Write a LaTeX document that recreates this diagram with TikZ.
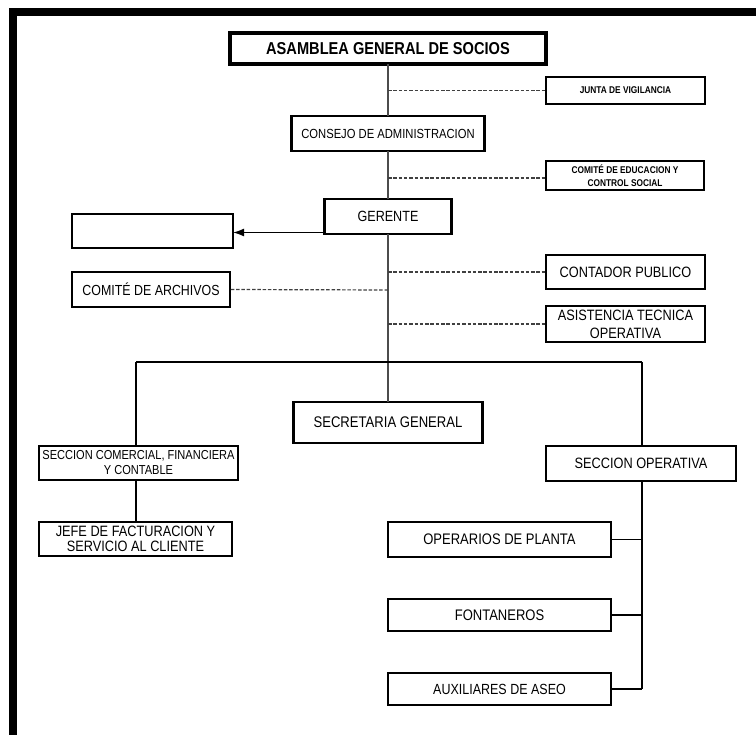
\documentclass[tikz,border=0pt]{standalone}
\usepackage{fontspec}
\setmainfont{Liberation Sans}[FakeStretch=0.85]
\usetikzlibrary{arrows.meta}
\begin{document}
\begin{tikzpicture}[x=1pt,y=-1pt,
  box/.style={draw=black, fill=white, inner sep=0pt, outer sep=0pt, align=center},
  thickbox/.style={box, line width=4pt},
  midbox/.style={box, line width=2.6pt},
  thinbox/.style={box, line width=1.4pt},
  vline/.style={draw=black!70, line width=1.4pt},
  branch/.style={draw=black, line width=1.8pt},
  dashline/.style={draw=black!75, line width=1.2pt, dash pattern=on 3.5pt off 1.8pt},
  arr/.style={draw=black, line width=1.6pt, -{Latex[length=11pt,width=8pt]}},
  fA/.style={font=\fontsize{17.2}{20}\selectfont\bfseries},
  fM/.style={font=\fontsize{15}{18}\selectfont},
  fS/.style={font=\fontsize{9.8}{13}\selectfont\bfseries}
]
\useasboundingbox (0,0) rectangle (756,735);
% frame
\fill[black] (9,8) rectangle (756,16);
\fill[black] (9,8) rectangle (17,735);

% nodes
\node[thickbox, fA, minimum width=316, minimum height=31] (asam) at (388,48.5) {ASAMBLEA GENERAL DE SOCIOS};
\node[thinbox, fS, minimum width=159, minimum height=27] (junta) at (625.5,90.5) {JUNTA DE VIGILANCIA};
\node[midbox, font=\fontsize{13.2}{16}\selectfont, minimum width=193, minimum height=35] (consejo) at (388,133.5) {CONSEJO DE ADMINISTRACION};
\node[thinbox, fS, minimum width=158, minimum height=29] (edu) at (625,175.5) {COMITÉ DE EDUCACION Y\\CONTROL SOCIAL};
\node[midbox, font=\fontsize{14.8}{18}\selectfont, minimum width=127, minimum height=35] (gerente) at (388,216.5) {GERENTE};
\node[thinbox, minimum width=161, minimum height=34] (empty) at (152.5,231) {};
\node[thinbox, fM, minimum width=159, minimum height=34] (contador) at (625.5,272) {CONTADOR PUBLICO};
\node[thinbox, font=\fontsize{14.6}{18}\selectfont, minimum width=158, minimum height=35] (archivos) at (151,289.5) {COMITÉ DE ARCHIVOS};
\node[thinbox, fM, minimum width=159, minimum height=36] (asist) at (625.5,324) {ASISTENCIA TECNICA\\OPERATIVA};
\node[midbox, font=\fontsize{15.4}{18}\selectfont, minimum width=189, minimum height=41] (secre) at (388,422.5) {SECRETARIA GENERAL};
\node[midbox, font=\fontsize{13}{15}\selectfont, minimum width=199, minimum height=34] (comer) at (138.5,463) {SECCION COMERCIAL, FINANCIERA\\Y CONTABLE};
\node[midbox, font=\fontsize{15}{15.5}\selectfont, minimum width=193, minimum height=34] (jefe) at (135.5,539) {JEFE DE FACTURACION Y\\SERVICIO AL CLIENTE};
\node[midbox, fM, minimum width=190, minimum height=35] (oper) at (641,463.5) {SECCION OPERATIVA};
\node[midbox, font=\fontsize{15.3}{18}\selectfont, minimum width=223, minimum height=35] (planta) at (499.5,539.5) {OPERARIOS DE PLANTA};
\node[midbox, font=\fontsize{15.3}{18}\selectfont, minimum width=223, minimum height=32] (fonta) at (499.5,615) {FONTANEROS};
\node[midbox, font=\fontsize{14.7}{18}\selectfont, minimum width=223, minimum height=32] (aux) at (499.5,689) {AUXILIARES DE ASEO};

% helper coordinates
\coordinate (busL) at (136,362);
\coordinate (busR) at (642,362);
\coordinate (d1) at (388,90.5);
\coordinate (d2) at (388,178);
\coordinate (d3) at (388,272);
\coordinate (d4) at (388,290);
\coordinate (d5) at (388,324);
\coordinate (a0) at ([yshift=1.5pt]gerente.south west);

% main vertical line
\draw[vline] (asam.south) -- (consejo.north);
\draw[vline] (consejo.south) -- (gerente.north);
\draw[vline] (gerente.south) -- (secre.north);

% dashed staff links
\draw[dashline] (d1) -- (junta.west);
\draw[dashline] (d2) -- (d2 -| edu.west);
\draw[dashline] (d3) -- (contador.west);
\draw[dashline] (d4) -- (archivos.east);
\draw[dashline] (d5) -- (asist.west);

% arrow
\draw[arr] (a0) -- (a0 -| empty.east);

% bus and branches
\draw[branch] (busL) -- (busR);
\draw[branch] (busL) -- (busL |- comer.north);
\draw[branch] (busR) -- (busR |- oper.north);
\draw[branch] (busL |- comer.south) -- (busL |- jefe.north);
\draw[branch] (busR |- oper.south) -- (busR |- aux.east);
\draw[branch] (planta.east) -- (planta.east -| busR);
\draw[branch] (fonta.east) -- (fonta.east -| busR);
\draw[branch] (aux.east) -- (aux.east -| busR);
\end{tikzpicture}
\end{document}
